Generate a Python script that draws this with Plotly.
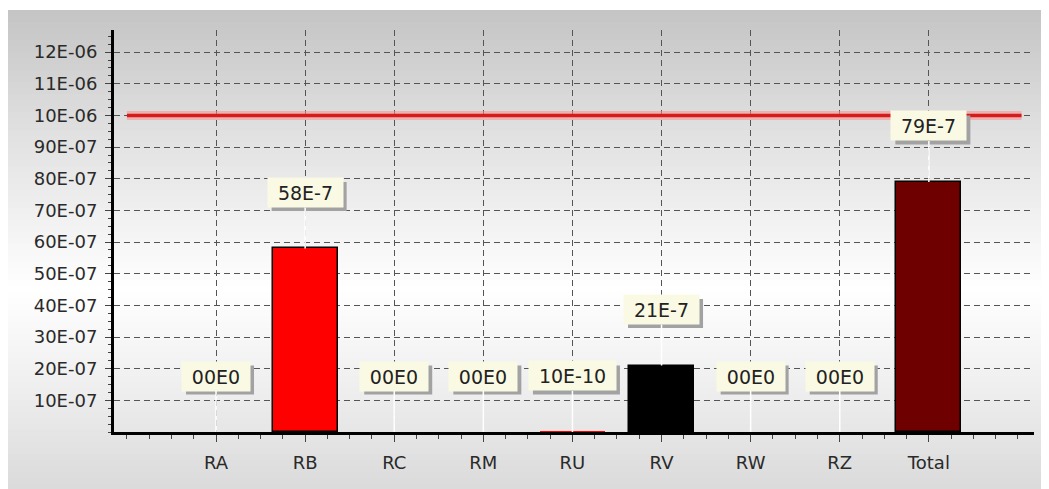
import plotly.graph_objects as go

categories = ["RA", "RB", "RC", "RM", "RU", "RV", "RW", "RZ", "Total"]
values = [0.0, 5.8e-6, 0.0, 0.0, 1.0e-9, 2.1e-6, 0.0, 0.0, 7.9e-6]
value_labels = ["00E0", "58E-7", "00E0", "00E0", "10E-10", "21E-7", "00E0", "00E0", "79E-7"]
limit_value = 1.0e-5
limit_x = [-1.0, 9.04]
ytick_vals = [1e-6, 2e-6, 3e-6, 4e-6, 5e-6, 6e-6, 7e-6, 8e-6, 9e-6, 1e-5, 1.1e-5, 1.2e-5]
ytick_text = ["10E-07", "20E-07", "30E-07", "40E-07", "50E-07", "60E-07", "70E-07",
              "80E-07", "90E-07", "10E-06", "11E-06", "12E-06"]

bar_colors = ["#ff0000", "#ff0000", "#ff0000", "#ff0000", "#ff0000", "#000000",
              "#ff0000", "#ff0000", "#6e0000"]

# page has an 8px body margin; figure sized to fit the 1049x489 window
W, H = 1041, 481
OFF = 8
L, R, T, B = 106, 15, 22, 57
PW, PH = W - L - R, H - T - B
FONT = "DejaVu Sans"
LABEL_SIZE = 19

x_idx = list(range(len(categories)))

fig = go.Figure()

fig.add_trace(go.Scatter(x=limit_x, y=[limit_value, limit_value], mode="lines",
                         line=dict(color="rgba(255,140,140,0.55)", width=9),
                         hoverinfo="skip", showlegend=False))
fig.add_trace(go.Scatter(x=limit_x, y=[limit_value, limit_value], mode="lines",
                         line=dict(color="#d41c1c", width=3.5),
                         hoverinfo="skip", showlegend=False))

line_widths = [1.5 if v > 1e-8 else 0 for v in values]
fig.add_trace(go.Bar(x=x_idx, y=values, width=0.73,
                     marker=dict(color=bar_colors, line=dict(color="#000000", width=line_widths)),
                     hoverinfo="x+y", showlegend=False))

# background gradient bands (page pixel coords -> paper coords)
def py_to_paper(py):
    return (H - B - (py - OFF)) / PH

def px_to_paper(px):
    return ((px - OFF) - L) / PW

def grey_at(py):
    stops = [(10, 196), (120, 222), (290, 255), (400, 236), (489, 218)]
    for (y0, c0), (y1, c1) in zip(stops[:-1], stops[1:]):
        if y0 <= py <= y1:
            return c0 + (c1 - c0) * (py - y0) / (y1 - y0)
    return stops[-1][1]

shapes = []
band = 6
y = 10
while y < OFF + H:
    y2 = min(y + band, OFF + H)
    g = int(round(grey_at((y + y2) / 2)))
    shapes.append(dict(type="rect", xref="paper", yref="paper",
                       x0=px_to_paper(OFF), x1=px_to_paper(OFF + W),
                       y0=py_to_paper(y2), y1=py_to_paper(y),
                       fillcolor=f"rgb({g},{g},{g})", line=dict(width=0), layer="below"))
    y = y2

# label boxes
char_w = {"E": 0.632, "-": 0.361}
def text_w(s):
    return sum(char_w.get(c, 0.636) for c in s) * LABEL_SIZE

BOX_H = 25
PAD = 2
LIFT = 56
SH = 4
annotations = []
for i, (v, t) in enumerate(zip(values, value_labels)):
    bw = round(text_w(t) + 16)
    ow = bw + 2 * PAD
    oh = BOX_H + 2 * PAD
    shapes.append(dict(type="rect", xref="x", yref="y", xsizemode="pixel", ysizemode="pixel",
                       xanchor=i, yanchor=v,
                       x0=-ow / 2 + SH, x1=ow / 2 + SH,
                       y0=LIFT - oh / 2 - SH, y1=LIFT + oh / 2 - SH,
                       fillcolor="#a2a2a2", line=dict(width=0), layer="above"))
    annotations.append(dict(x=i, y=v, xref="x", yref="y", text=t,
                            showarrow=True, arrowhead=0, arrowcolor="#ffffff", arrowwidth=1.5,
                            ax=0, ay=-LIFT, width=bw, height=BOX_H, align="center",
                            valign="middle", bgcolor="#fafae4", borderpad=PAD,
                            font=dict(family=FONT, size=LABEL_SIZE, color="#222222")))

fig.update_layout(
    width=W, height=H,
    margin=dict(l=L, r=R, t=T, b=B),
    paper_bgcolor="#ffffff",
    plot_bgcolor="rgba(0,0,0,0)",
    shapes=shapes,
    annotations=annotations,
    bargap=0,
    font=dict(family=FONT, size=18, color="#2a2a2a"),
)

fig.update_xaxes(range=[-1.145, 9.18], tickmode="array", tickvals=x_idx, ticktext=categories,
                 showline=True, linecolor="#000000", linewidth=3, mirror=False,
                 ticks="outside", ticklen=7, tickcolor="#444444", tickwidth=1,
                 ticklabelstandoff=5,
                 showgrid=True, gridcolor="#555555", gridwidth=1, griddash="6px,4px",
                 zeroline=False,
                 minor=dict(dtick=0.25, tick0=0, ticks="outside", ticklen=4,
                            tickcolor="#444444", showgrid=False),
                 tickfont=dict(family=FONT, size=18, color="#2a2a2a"))
fig.update_yaxes(range=[0, 1.27e-5], tickmode="array", tickvals=ytick_vals, ticktext=ytick_text,
                 showline=True, linecolor="#000000", linewidth=3,
                 ticks="outside", ticklen=6, tickcolor="#444444", tickwidth=1,
                 ticklabelstandoff=4,
                 showgrid=True, gridcolor="#555555", gridwidth=1, griddash="6px,4px",
                 zeroline=False,
                 minor=dict(dtick=2.5e-7, tick0=0, ticks="outside", ticklen=3,
                            tickcolor="#444444", showgrid=False),
                 tickfont=dict(family=FONT, size=18, color="#2a2a2a"))

fig.write_html("out.html")
